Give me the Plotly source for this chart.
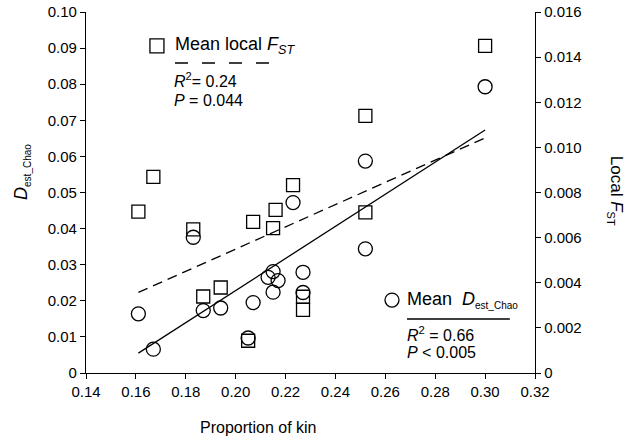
import plotly.graph_objects as go

# ---- data ----
kin_dest = [0.161, 0.167, 0.183, 0.187, 0.194, 0.205, 0.207, 0.213, 0.215, 0.215,
            0.217, 0.223, 0.227, 0.227, 0.252, 0.252, 0.300]
dest_chao = [0.0164, 0.0066, 0.0376, 0.0173, 0.0180, 0.0097, 0.0195, 0.0265, 0.0281, 0.0224,
             0.0256, 0.0472, 0.0279, 0.0223, 0.0344, 0.0587, 0.0793]

kin_fst = [0.161, 0.167, 0.183, 0.187, 0.194, 0.205, 0.207, 0.215, 0.216, 0.223,
           0.227, 0.227, 0.252, 0.252, 0.300]
local_fst = [0.00715, 0.00869, 0.00637, 0.00339, 0.00379, 0.00143, 0.00670, 0.00642, 0.00723, 0.00833,
             0.00338, 0.00280, 0.00712, 0.01140, 0.01450]

fit_dest_x = [0.161, 0.300]
fit_dest_y = [0.0055, 0.0673]
fit_fst_x = [0.161, 0.301]
fit_fst_y = [0.00357, 0.01047]

x_ticks = [0.14, 0.16, 0.18, 0.20, 0.22, 0.24, 0.26, 0.28, 0.30, 0.32]
x_labels = ["0.14", "0.16", "0.18", "0.20", "0.22", "0.24", "0.26", "0.28", "0.30", "0.32"]
yl_ticks = [0, 0.01, 0.02, 0.03, 0.04, 0.05, 0.06, 0.07, 0.08, 0.09, 0.10]
yl_labels = ["0", "0.01", "0.02", "0.03", "0.04", "0.05", "0.06", "0.07", "0.08", "0.09", "0.10"]
yr_ticks = [0, 0.002, 0.004, 0.006, 0.008, 0.010, 0.012, 0.014, 0.016]
yr_labels = ["0", "0.002", "0.004", "0.006", "0.008", "0.010", "0.012", "0.014", "0.016"]

FONT = "Liberation Sans, Arial, sans-serif"

fig = go.Figure()
fig.add_trace(go.Scatter(x=fit_fst_x, y=fit_fst_y, mode="lines", yaxis="y2",
                         line=dict(color="black", width=1.3, dash="10px,6px"), showlegend=False))
fig.add_trace(go.Scatter(x=fit_dest_x, y=fit_dest_y, mode="lines",
                         line=dict(color="black", width=1.3), showlegend=False))
fig.add_trace(go.Scatter(x=kin_fst, y=local_fst, mode="markers", yaxis="y2",
                         marker=dict(symbol="square-open", size=13, color="black", line=dict(width=1.3)),
                         showlegend=False))
fig.add_trace(go.Scatter(x=kin_dest, y=dest_chao, mode="markers",
                         marker=dict(symbol="circle-open", size=14, color="black", line=dict(width=1.3)),
                         showlegend=False))

axis_common = dict(showgrid=False, zeroline=False, showline=True, linecolor="black", linewidth=1.3,
                   ticks="outside", ticklen=5, tickwidth=1.3, tickcolor="black",
                   ticklabeloverflow="allow", automargin=False,
                   tickfont=dict(family=FONT, size=15, color="black"))

fig.update_layout(
    width=631, height=439,
    margin=dict(l=86, r=96, t=12, b=66, autoexpand=False),
    paper_bgcolor="white", plot_bgcolor="white",
    font=dict(family=FONT, color="black", size=15),
    hovermode=False,
    xaxis=dict(range=[0.14, 0.32], tickvals=x_ticks, ticktext=x_labels, **axis_common),
    yaxis=dict(range=[0, 0.10], tickvals=yl_ticks, ticktext=yl_labels, **axis_common),
    yaxis2=dict(range=[0, 0.016], tickvals=yr_ticks, ticktext=yr_labels, overlaying="y",
                side="right", **axis_common),
)

SUB_D = '<sub><span style="font-size:10px">est_Chao</span></sub>'
ann = [
    dict(x=0.385, y=-0.15, text="Proportion of kin", font=dict(size=16), xanchor="center", yanchor="middle"),
    dict(x=-0.1425, y=0.557, text="<i>D</i>" + SUB_D, textangle=-90, font=dict(size=18),
         xanchor="center", yanchor="middle"),
    dict(x=1.178, y=0.505, text='Local <i>F</i><sub><span style="font-size:11px">ST</span></sub>',
         textangle=90, font=dict(size=17), xanchor="center", yanchor="middle"),
    dict(x=0.1938, y=0.906, text="Mean local <i>F</i><sub><i>ST</i></sub>", font=dict(size=18),
         xanchor="left", yanchor="middle"),
    dict(x=0.1915, y=0.8116, text="<i>R</i><sup>2</sup>= 0.24", font=dict(size=16),
         xanchor="left", yanchor="middle"),
    dict(x=0.1915, y=0.756, text="<i>P</i> = 0.044", font=dict(size=16),
         xanchor="left", yanchor="middle"),
    dict(x=0.7105, y=0.202, text="Mean  <i>D</i>" + SUB_D, font=dict(size=18),
         xanchor="left", yanchor="middle"),
    dict(x=0.7105, y=0.108, text="<i>R</i><sup>2</sup> = 0.66", font=dict(size=16),
         xanchor="left", yanchor="middle"),
    dict(x=0.7105, y=0.058, text="<i>P</i> &lt; 0.005", font=dict(size=16),
         xanchor="left", yanchor="middle"),
]
for a in ann:
    a.update(xref="paper", yref="paper", showarrow=False)
    a["font"] = dict(family=FONT, color="black", **a["font"])
    fig.add_annotation(**a)

shapes = [
    dict(type="rect", xref="paper", yref="paper", xsizemode="pixel", ysizemode="pixel",
         xanchor=0.158, yanchor=0.906, x0=-7, x1=7, y0=-7, y1=7,
         line=dict(color="black", width=1.3)),
    dict(type="circle", xref="paper", yref="paper", xsizemode="pixel", ysizemode="pixel",
         xanchor=0.6815, yanchor=0.202, x0=-7, x1=7, y0=-7, y1=7,
         line=dict(color="black", width=1.3)),
    dict(type="line", xref="paper", yref="paper", x0=0.1982, x1=0.4143, y0=0.8587, y1=0.8587,
         line=dict(color="black", width=1.3, dash="13px,14px")),
    dict(type="line", xref="paper", yref="paper", x0=0.715, x1=0.944, y0=0.1496, y1=0.1496,
         line=dict(color="black", width=1.3)),
]
for s in shapes:
    fig.add_shape(**s)

# remove the default 8px page margin so the 631x439 figure fills the window exactly
fig.write_html("out.html", config={"displayModeBar": False},
               post_script="document.body.style.margin='0';")
